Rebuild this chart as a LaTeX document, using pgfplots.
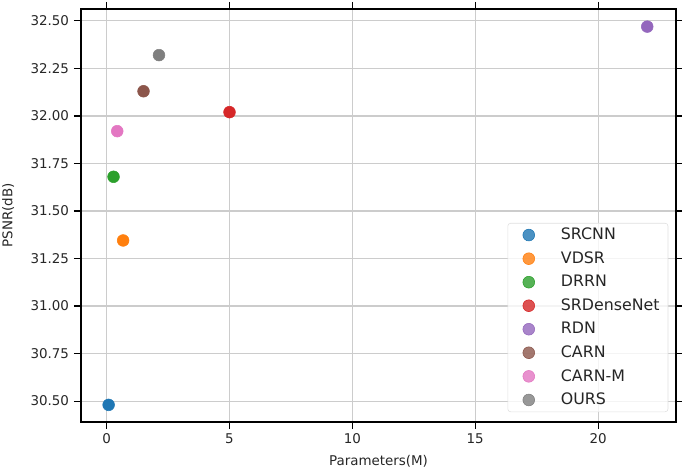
\documentclass[border=0pt]{standalone}
\usepackage{pgfplots}
\pgfplotsset{compat=1.18}
\usepackage{fontspec}
\setmainfont{DejaVu Sans}
\definecolor{c1}{HTML}{1F77B4}
\definecolor{c2}{HTML}{FF7F0E}
\definecolor{c3}{HTML}{2CA02C}
\definecolor{c4}{HTML}{D62728}
\definecolor{c5}{HTML}{9467BD}
\definecolor{c6}{HTML}{8C564B}
\definecolor{c7}{HTML}{E377C2}
\definecolor{c8}{HTML}{7F7F7F}
\definecolor{txt}{HTML}{262626}
\begin{document}
\begin{tikzpicture}
\begin{axis}[
  scale only axis,
  width=425.4pt, height=295.3pt,
  xmin=-1.045, xmax=23.17,
  ymin=30.39, ymax=32.563,
  xtick={0,5,10,15,20},
  ytick={30.5,30.75,31,31.25,31.5,31.75,32,32.25,32.5},
  yticklabel style={/pgf/number format/.cd,fixed,fixed zerofill,precision=2},
  /pgf/number format/assume math mode=true,
  grid=major,
  major grid style={draw=gray!40, line width=0.8pt},
  axis line style={black, line width=0.8pt},
  tick style={black, line width=0.8pt},
  tick align=outside,
  major tick length=5pt,
  ticklabel style={font=\fontsize{9.6}{11}\selectfont, text=txt},
  xlabel={Parameters(M)},
  ylabel={PSNR(dB)},
  label style={font=\fontsize{9.6}{11}\selectfont, text=txt},
  xlabel style={at={(0.5,0)}, anchor=center, yshift=-28pt},
  ylabel style={at={(0,0.5)}, anchor=center, yshift=52pt},
  legend cell align=left,
  legend style={
    at={(0.987,0.024)}, anchor=south east,
    draw=gray!25, rounded corners=2pt, fill=white, fill opacity=0.8, text opacity=1,
    font=\fontsize{11.3}{13}\selectfont, text=txt,
    row sep=3.0pt, inner xsep=4pt, inner ysep=1.5pt,
  },
  legend image code/.code={\path[draw=none, fill=none] (0pt,-1pt) rectangle (32pt,1pt); \draw[#1] plot coordinates {(11pt,0pt)};},
  every axis plot/.append style={only marks, mark=*, mark size=4.2pt, mark options={draw=white, line width=0.3pt}},
  clip=false,
]
\addplot[c1, mark options={fill=c1}] coordinates {(0.08,30.48)};
\addlegendentry{SRCNN}
\addplot[c2, mark options={fill=c2}] coordinates {(0.67,31.345)};
\addlegendentry{VDSR}
\addplot[c3, mark options={fill=c3}] coordinates {(0.28,31.68)};
\addlegendentry{DRRN}
\addplot[c4, mark options={fill=c4}] coordinates {(5.0,32.02)};
\addlegendentry{SRDenseNet}
\addplot[c5, mark options={fill=c5}] coordinates {(22.0,32.47)};
\addlegendentry{RDN}
\addplot[c6, mark options={fill=c6}] coordinates {(1.5,32.13)};
\addlegendentry{CARN}
\addplot[c7, mark options={fill=c7}] coordinates {(0.43,31.92)};
\addlegendentry{CARN-M}
\addplot[c8, mark options={fill=c8}] coordinates {(2.13,32.32)};
\addlegendentry{OURS}
\end{axis}
\pgfresetboundingbox
\path (current axis.south west) ++(-57.9pt,-32.2pt) coordinate (bl);
\path (current axis.north east) ++(4.3pt,6.4pt) coordinate (tr);
\useasboundingbox (bl) rectangle (tr);
\end{tikzpicture}
\end{document}
